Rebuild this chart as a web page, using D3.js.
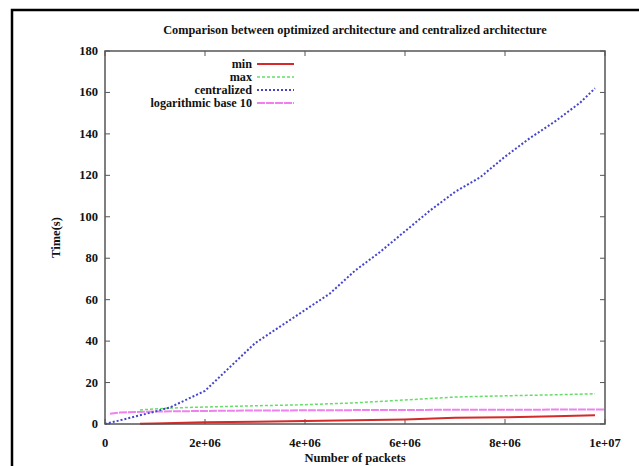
<!DOCTYPE html>
<html><head><meta charset="utf-8">
<script src="https://cdn.jsdelivr.net/npm/d3@7"></script>
<style>body{margin:0;background:#fff}svg text{font-family:"Liberation Serif","DejaVu Serif",serif;font-weight:bold;fill:#111}</style>
</head><body>
<script>
const title = "Comparison between optimized architecture and centralized architecture";
const xLabel = "Number of packets";
const yLabel = "Time(s)";
const xTicks = [0, 2e6, 4e6, 6e6, 8e6, 1e7];
const xTickLabels = ["0", "2e+06", "4e+06", "6e+06", "8e+06", "1e+07"];
const yTicks = [0, 20, 40, 60, 80, 100, 120, 140, 160, 180];
const seriesNames = ["min", "max", "centralized", "logarithmic base 10"];

const minData = [[7e5,0.1],[1e6,0.3],[2e6,0.8],[3e6,1.1],[4e6,1.5],[5e6,1.8],[6e6,2.2],[7e6,3.0],[8e6,3.2],[9e6,3.7],[9.8e6,4.2]];
const maxData = [[7e5,6.8],[1.3e6,7.7],[2e6,8.2],[3e6,8.8],[4e6,9.3],[5e6,10.2],[6e6,11.6],[7e6,13.0],[8e6,13.6],[9e6,14.1],[9.8e6,14.6]];
const centralData = [[0,0],[5e5,3],[1e6,6],[1.3e6,8],[2e6,16],[3e6,39],[3.5e6,47],[4e6,55],[4.5e6,63],[5e6,74],[5.5e6,83],[6e6,93],[6.5e6,103],[7e6,112],[7.5e6,119],[8e6,129],[8.5e6,138],[9e6,146],[9.5e6,155],[9.8e6,162]];
const logData = [[1e5,5.0],[3e5,5.5],[6e5,5.8],[1e6,6.0],[2e6,6.3],[3e6,6.5],[4e6,6.6],[5e6,6.7],[6e6,6.78],[7e6,6.85],[8e6,6.9],[9e6,6.95],[1e7,7.0]];

const W = 639, H = 466;
const svg = d3.select("body").append("svg").attr("width", W).attr("height", H);

svg.append("path").attr("d", `M12,${H} L12,10 L${W},10`).attr("fill","none").attr("stroke","#000").attr("stroke-width",2.5);

const L = 105, R = 605, T = 51, B = 424;
const x = d3.scaleLinear().domain([0, 1e7]).range([L, R]);
const y = d3.scaleLinear().domain([0, 180]).range([B, T]);

const tickLen = 5;
const g = svg.append("g");
const ax = g.append("g").attr("stroke","#555").attr("stroke-width",1);
xTicks.forEach(t => {
  ax.append("line").attr("x1",x(t)).attr("x2",x(t)).attr("y1",B).attr("y2",B-tickLen);
  ax.append("line").attr("x1",x(t)).attr("x2",x(t)).attr("y1",T).attr("y2",T+tickLen);
});
yTicks.forEach(t => {
  ax.append("line").attr("x1",L).attr("x2",L+tickLen).attr("y1",y(t)).attr("y2",y(t));
  ax.append("line").attr("x1",R).attr("x2",R-tickLen).attr("y1",y(t)).attr("y2",y(t));
});

xTicks.forEach((t,i) => {
  g.append("text").attr("x",x(t)).attr("y",B+23).attr("text-anchor","middle").attr("font-size",12.5).text(xTickLabels[i]);
});
yTicks.forEach(t => {
  g.append("text").attr("x",L-7).attr("y",y(t)+4).attr("text-anchor","end").attr("font-size",12.5).text(t);
});

svg.append("text").attr("x",(L+R)/2).attr("y",462).attr("text-anchor","middle").attr("font-size",12.5).text(xLabel);
svg.append("text").attr("transform",`translate(60,${(T+B)/2}) rotate(-90)`).attr("text-anchor","middle").attr("font-size",12.5).text(yLabel);
svg.append("text").attr("x",(L+R)/2).attr("y",34).attr("text-anchor","middle").attr("font-size",12.3).text(title);

const line = d3.line().x(d => x(d[0])).y(d => y(d[1]));
const styles = [
  {data:minData, color:"#d42a2a", width:2, dash:null},
  {data:maxData, color:"#66dd66", width:1.5, dash:"3,2"},
  {data:centralData, color:"#4444cc", width:2, dash:"2,2"},
  {data:logData, color:"#f080f0", width:2, dash:"8,1"}
];
const plot = svg.append("g");
[3,1,0,2].forEach(i => {
  const s = styles[i];
  plot.append("path").attr("d", line(s.data)).attr("fill","none").attr("stroke",s.color)
    .attr("stroke-width",s.width).attr("stroke-dasharray",s.dash);
});

svg.append("rect").attr("x",L).attr("y",T).attr("width",R-L).attr("height",B-T).attr("fill","none").attr("stroke","#555").attr("stroke-width",1.5);

const legY0 = 64, legDy = 13;
seriesNames.forEach((n,i) => {
  const yy = legY0 + i*legDy;
  svg.append("text").attr("x",252).attr("y",yy+4).attr("text-anchor","end").attr("font-size",12.2).text(n);
  svg.append("line").attr("x1",257).attr("x2",294).attr("y1",yy).attr("y2",yy)
    .attr("stroke",styles[i].color).attr("stroke-width",styles[i].width).attr("stroke-dasharray",styles[i].dash);
});
</script>
</body></html>
